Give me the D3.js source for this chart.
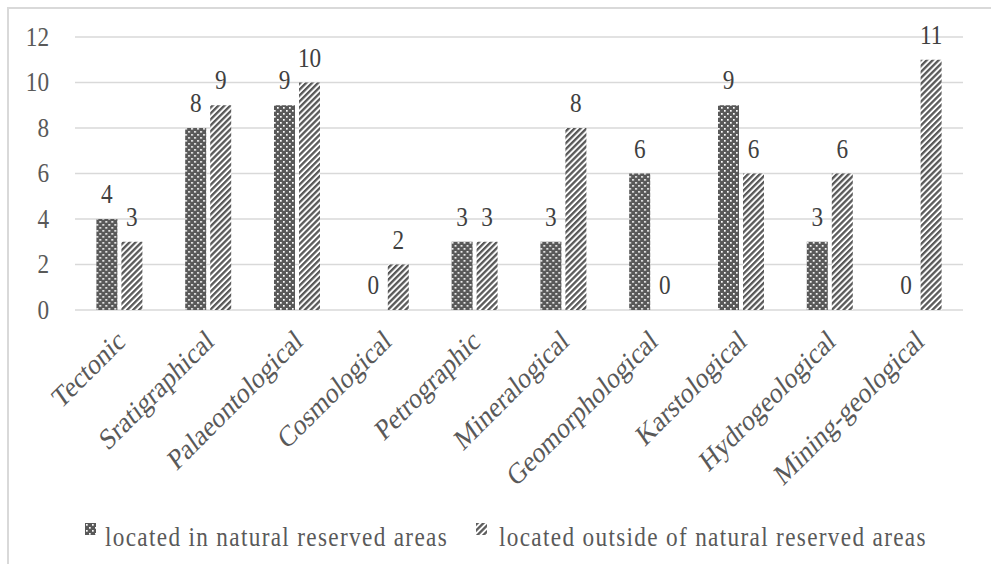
<!DOCTYPE html>
<html>
<head>
<meta charset="utf-8">
<script src="https://cdn.jsdelivr.net/npm/d3@7"></script>
<style>
  body { margin: 0; background: #fff; }
  svg { display: block; }
  text { font-family: "Liberation Serif", "Times New Roman", serif; }
</style>
</head>
<body>
<div id="chart"></div>
<script>
const categories = ["Tectonic", "Sratigraphical", "Palaeontological", "Cosmological", "Petrographic",
  "Mineralogical", "Geomorphological", "Karstological", "Hydrogeological", "Mining-geological"];
const seriesNames = ["located in natural reserved areas", "located outside of natural reserved areas"];
const inside = [4, 8, 9, 0, 3, 3, 6, 9, 3, 0];
const outside = [3, 9, 10, 2, 3, 8, 0, 6, 6, 11];
const yTicks = [0, 2, 4, 6, 8, 10, 12];

const W = 991, H = 564;
const margin = { top: 37, right: 28, bottom: 254, left: 75 };
const width = W - margin.left - margin.right,
  height = H - margin.top - margin.bottom;

// text in the picture is narrow, squeeze it horizontally
const sq = 0.83;
const labelAngle = Math.atan(sq) * 180 / Math.PI;

const svgRoot = d3.select("#chart").append("svg")
  .attr("width", W)
  .attr("height", H);

const defs = svgRoot.append("defs");
const dots = defs.append("pattern")
  .attr("id", "dots")
  .attr("patternUnits", "userSpaceOnUse")
  .attr("width", 6).attr("height", 6);
dots.append("rect").attr("width", 6).attr("height", 6).attr("fill", "#595959");
dots.append("rect").attr("x", 1).attr("y", 1).attr("width", 1.7).attr("height", 1.7).attr("fill", "#fff");
dots.append("rect").attr("x", 4).attr("y", 4).attr("width", 1.7).attr("height", 1.7).attr("fill", "#fff");

const hatch = defs.append("pattern")
  .attr("id", "hatch")
  .attr("patternUnits", "userSpaceOnUse")
  .attr("width", 4.2).attr("height", 4.2)
  .attr("patternTransform", "rotate(45)");
hatch.append("rect").attr("width", 4.2).attr("height", 4.2).attr("fill", "#fff");
hatch.append("rect").attr("width", 2.3).attr("height", 4.2).attr("fill", "#595959");

// outer frame
svgRoot.append("rect")
  .attr("x", 8).attr("y", 8)
  .attr("width", W).attr("height", H)
  .attr("fill", "none")
  .attr("stroke", "#d9d9d9")
  .attr("stroke-width", 2);

const svg = svgRoot.append("g")
  .attr("transform", `translate(${margin.left},${margin.top})`);

const x0 = d3.scaleBand().domain(categories).range([0, width]).padding(0);
const x1 = d3.scaleBand().domain(seriesNames).range([-23, 23]).paddingInner(0.16);
const y = d3.scaleLinear().domain([0, 12]).range([height, 0]);

// gridlines
svg.append("g")
  .selectAll("line")
  .data(yTicks)
  .join("line")
  .attr("x1", 0).attr("x2", width)
  .attr("y1", d => y(d)).attr("y2", d => y(d))
  .attr("stroke", "#d9d9d9")
  .attr("stroke-width", 1.5);

// y axis labels
svg.append("g")
  .selectAll("text")
  .data(yTicks)
  .join("text")
  .attr("transform", d => `translate(-26,${y(d)}) scale(${sq},1)`)
  .attr("dy", "0.32em")
  .attr("text-anchor", "end")
  .style("font-size", "28px")
  .style("fill", "#595959")
  .text(d => d);

const rows = categories.map((c, i) => ({ cat: c, values: [inside[i], outside[i]] }));

const groups = svg.selectAll("g.cat")
  .data(rows)
  .join("g")
  .attr("class", "cat")
  .attr("transform", d => `translate(${x0(d.cat) + x0.bandwidth() / 2},0)`);

groups.selectAll("rect")
  .data(d => d.values.map((v, k) => ({ s: seriesNames[k], v, k })))
  .join("rect")
  .attr("x", d => x1(d.s))
  .attr("y", d => y(d.v))
  .attr("width", x1.bandwidth())
  .attr("height", d => y(0) - y(d.v))
  .attr("fill", d => d.k === 0 ? "url(#dots)" : "url(#hatch)");

groups.selectAll("text.val")
  .data(d => d.values.map((v, k) => ({ s: seriesNames[k], v, k })))
  .join("text")
  .attr("class", "val")
  .attr("transform", d => `translate(${x1(d.s) + x1.bandwidth() / 2},${y(d.v) - 16}) scale(${sq},1)`)
  .attr("text-anchor", "middle")
  .style("font-size", "28px")
  .style("fill", "#404040")
  .text(d => d.v);

// x labels
svg.append("g")
  .selectAll("text")
  .data(categories)
  .join("text")
  .attr("transform", d => `translate(${x0(d) + x0.bandwidth() / 2 + 7},${height + 34}) scale(${sq},1) rotate(${-labelAngle})`)
  .attr("text-anchor", "end")
  .style("font-size", "30px")
  .style("fill", "#595959")
  .text(d => d);

// legend
const legend = svgRoot.append("g").attr("transform", "translate(85,523)");
const item1 = legend.append("g");
item1.append("rect").attr("x", 0).attr("y", 0).attr("width", 11).attr("height", 12).attr("fill", "url(#dots)");
item1.append("text").attr("transform", `translate(20,23) scale(${sq},1)`)
  .style("font-size", "28px").style("letter-spacing", "1.6px").style("fill", "#595959").text(seriesNames[0]);
const item2 = legend.append("g").attr("transform", "translate(391,0)");
item2.append("rect").attr("x", 0).attr("y", 0).attr("width", 11).attr("height", 12).attr("fill", "url(#hatch)");
item2.append("text").attr("transform", `translate(23,23) scale(${sq},1)`)
  .style("font-size", "28px").style("letter-spacing", "1.6px").style("fill", "#595959").text(seriesNames[1]);
</script>
</body>
</html>
